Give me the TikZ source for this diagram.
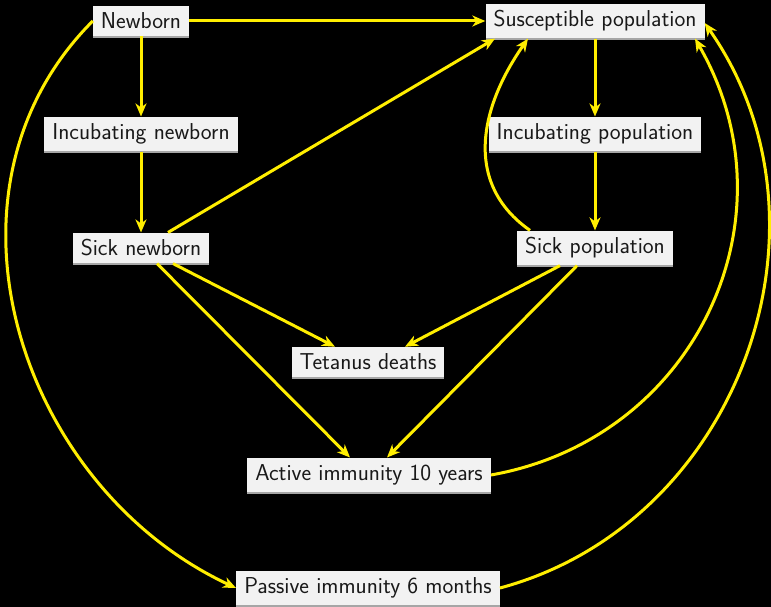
\documentclass[tikz,border=0pt]{standalone}
\usepackage{fontspec}
\usetikzlibrary{arrows.meta,shadows,calc}
\definecolor{arrowyellow}{RGB}{255,238,0}
\definecolor{boxfill}{RGB}{242,242,242}
\begin{document}
\begin{tikzpicture}[x=1pt,y=1pt,
  box/.style={fill=boxfill, inner xsep=8pt, inner ysep=7pt,
    font=\sffamily\fontsize{23}{27}\selectfont, text=black!90,
    drop shadow={shadow xshift=0pt, shadow yshift=-1.5pt, fill=gray!70, opacity=1}},
  flow/.style={draw=arrowyellow, line width=3pt,
    -{Stealth[length=13pt,width=11pt,inset=4pt]}}]
\fill[black] (0,0) rectangle (771,-607);
\useasboundingbox (0,0) rectangle (771,-607);

\node[box] (nb)   at (141,-21)  {Newborn};
\node[box] (sus)  at (595,-21)  {Susceptible population};
\node[box] (incn) at (141,-134) {Incubating newborn};
\node[box] (incp) at (595,-134) {Incubating population};
\node[box] (sickn) at (141,-248) {Sick newborn};
\node[box] (sickp) at (595,-248) {Sick population};
\node[box] (tet)  at (368,-362) {Tetanus deaths};
\node[box] (act)  at (369,-475) {Active immunity 10 years};
\node[box] (pas)  at (368,-588) {Passive immunity 6 months};

\draw[flow] (nb) -- (sus);
\draw[flow] (nb) -- (incn);
\draw[flow] (incn) -- (sickn);
\draw[flow] (sus) -- (incp);
\draw[flow] (incp) -- (sickp);
\draw[flow] ([xshift=27pt]sickn.north) -- ([xshift=-100pt]sus.south);
\draw[flow] ([xshift=32pt]sickn.south) -- ([xshift=-33pt]tet.north);
\draw[flow] ([xshift=16pt]sickn.south) -- ([xshift=-19pt]act.north);
\draw[flow] ([xshift=-35pt]sickp.south) -- ([xshift=37pt]tet.north);
\draw[flow] ([xshift=-18pt]sickp.south) -- ([xshift=18pt]act.north);
\draw[flow] ([xshift=-65pt]sickp.north) to[out=145,in=-125,looseness=1.1] ([xshift=-67pt]sus.south);
\draw[flow] (act.east) to[out=10,in=-60,looseness=1.1] ([xshift=100pt]sus.south);
\draw[flow] (pas.east) to[out=15,in=-55,looseness=1.05] ([yshift=-2pt]sus.east);
\draw[flow] (nb.west) to[out=-135,in=155,looseness=1.05] (pas.west);
\end{tikzpicture}
\end{document}
